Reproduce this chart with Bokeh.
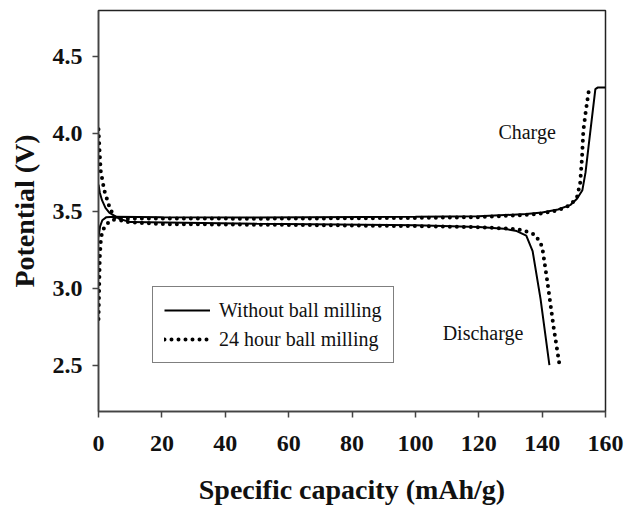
from bokeh.plotting import figure
from bokeh.models import Legend, LegendItem, FixedTicker
from bokeh.core.properties import value
from bokeh.embed import file_html
from bokeh.resources import INLINE

# ---- data ----
# Without ball milling - charge
cap_charge_plain = [0, 0.5, 1.2, 2.5, 5, 20, 50, 100, 120, 135, 140, 145, 149, 151, 152.7, 153.7, 154.6, 155.7, 156.8, 157.5, 160]
v_charge_plain = [3.33, 3.40, 3.44, 3.46, 3.462, 3.46, 3.458, 3.462, 3.466, 3.48, 3.49, 3.51, 3.54, 3.58, 3.635, 3.75, 3.91, 4.10, 4.29, 4.30, 4.30]
# Without ball milling - discharge
cap_dis_plain = [0, 0.4, 1.1, 2.2, 3.4, 6.5, 10, 50, 100, 120, 128, 132, 135, 137, 139.5, 142.3]
v_dis_plain = [3.67, 3.62, 3.57, 3.52, 3.49, 3.45, 3.428, 3.417, 3.407, 3.397, 3.385, 3.37, 3.34, 3.24, 2.93, 2.50]
# 24 hour ball milling - charge
cap_charge_milled = [0, 0.2, 0.4, 0.8, 1.5, 2.3, 4, 7, 20, 50, 100, 120, 135, 140, 145, 149, 151, 152, 152.6, 153, 153.8, 154.8]
v_charge_milled = [2.80, 3.00, 3.20, 3.33, 3.38, 3.41, 3.44, 3.45, 3.452, 3.45, 3.455, 3.46, 3.475, 3.485, 3.505, 3.54, 3.59, 3.68, 3.85, 4.02, 4.15, 4.29]
# 24 hour ball milling - discharge
cap_dis_milled = [0, 0.3, 0.7, 1.8, 3.4, 4.9, 8, 20, 60, 100, 120, 130, 134, 136, 137.9, 140, 141.7, 143.6, 145.5]
v_dis_milled = [4.03, 3.90, 3.76, 3.635, 3.53, 3.46, 3.43, 3.415, 3.41, 3.402, 3.395, 3.385, 3.375, 3.36, 3.345, 3.27, 3.035, 2.75, 2.50]

x_ticks = [0, 20, 40, 60, 80, 100, 120, 140, 160]
y_ticks = [2.5, 3.0, 3.5, 4.0, 4.5]
y_tick_labels = ["2.5", "3.0", "3.5", "4.0", "4.5"]

series_names = ["Without ball milling", "24 hour ball milling"]
annotations = [("Charge", 126.2, 4.01), ("Discharge", 108.6, 2.71)]

SERIF = "Liberation Serif"

p = figure(width=630, height=507, output_backend="svg", toolbar_location=None,
           x_range=(0, 160), y_range=(2.2, 4.8),
           min_border_left=98, min_border_right=25, min_border_top=10, min_border_bottom=95)
p.background_fill_color = "white"
p.border_fill_color = "white"
p.xgrid.visible = False
p.ygrid.visible = False
p.outline_line_color = "#222222"
p.outline_line_width = 1.5

for ax in (p.xaxis[0], p.yaxis[0]):
    ax.axis_line_color = "#444444"
    ax.axis_line_width = 1.5
    ax.major_tick_line_color = "#444444"
    ax.major_tick_line_width = 1.5
    ax.major_tick_out = 6
    ax.major_tick_in = 0
    ax.minor_tick_line_color = None
    ax.major_label_text_font = SERIF
    ax.major_label_text_font_style = "bold"
    ax.major_label_text_font_size = "24px"
    ax.major_label_text_color = "#111111"
    ax.axis_label_text_font = SERIF
    ax.axis_label_text_font_style = "bold"
    ax.axis_label_text_font_size = "28px"
    ax.axis_label_text_color = "#111111"

p.xaxis[0].ticker = FixedTicker(ticks=x_ticks)
p.yaxis[0].ticker = FixedTicker(ticks=y_ticks)
p.yaxis[0].major_label_overrides = {t: l for t, l in zip(y_ticks, y_tick_labels)}
p.xaxis[0].major_label_standoff = 18
p.yaxis[0].major_label_standoff = 10
p.xaxis[0].axis_label = "Specific capacity (mAh/g)"
p.yaxis[0].axis_label = "Potential (V)"
p.xaxis[0].axis_label_standoff = 20
p.yaxis[0].axis_label_standoff = 10

solid = dict(line_color="black", line_width=2)
dotted = dict(line_color="black", line_width=4, line_dash="0 7", line_cap="round")

r1 = p.line(cap_charge_plain, v_charge_plain, **solid)
p.line(cap_dis_plain, v_dis_plain, **solid)
r2 = p.line(cap_charge_milled, v_charge_milled, **dotted)
p.line(cap_dis_milled, v_dis_milled, **dotted)

for txt, xx, yy in annotations:
    p.text(x=[xx], y=[yy], text=[txt], text_font=value(SERIF), text_font_size="20px",
           text_color="#111111", text_align="left", text_baseline="middle")

legend = Legend(items=[LegendItem(label=series_names[0], renderers=[r1]),
                       LegendItem(label=series_names[1], renderers=[r2])],
                location=(54, 48), margin=0, padding=11, spacing=5,
                glyph_width=46, glyph_height=24, label_height=24, label_standoff=9,
                label_text_font=SERIF, label_text_font_size="20px", label_text_color="#111111",
                border_line_color="black", border_line_width=1.5,
                background_fill_color="white", background_fill_alpha=1.0)
p.add_layout(legend, "center")

html = file_html(p, INLINE)
open("out.html", "w").write(html)
